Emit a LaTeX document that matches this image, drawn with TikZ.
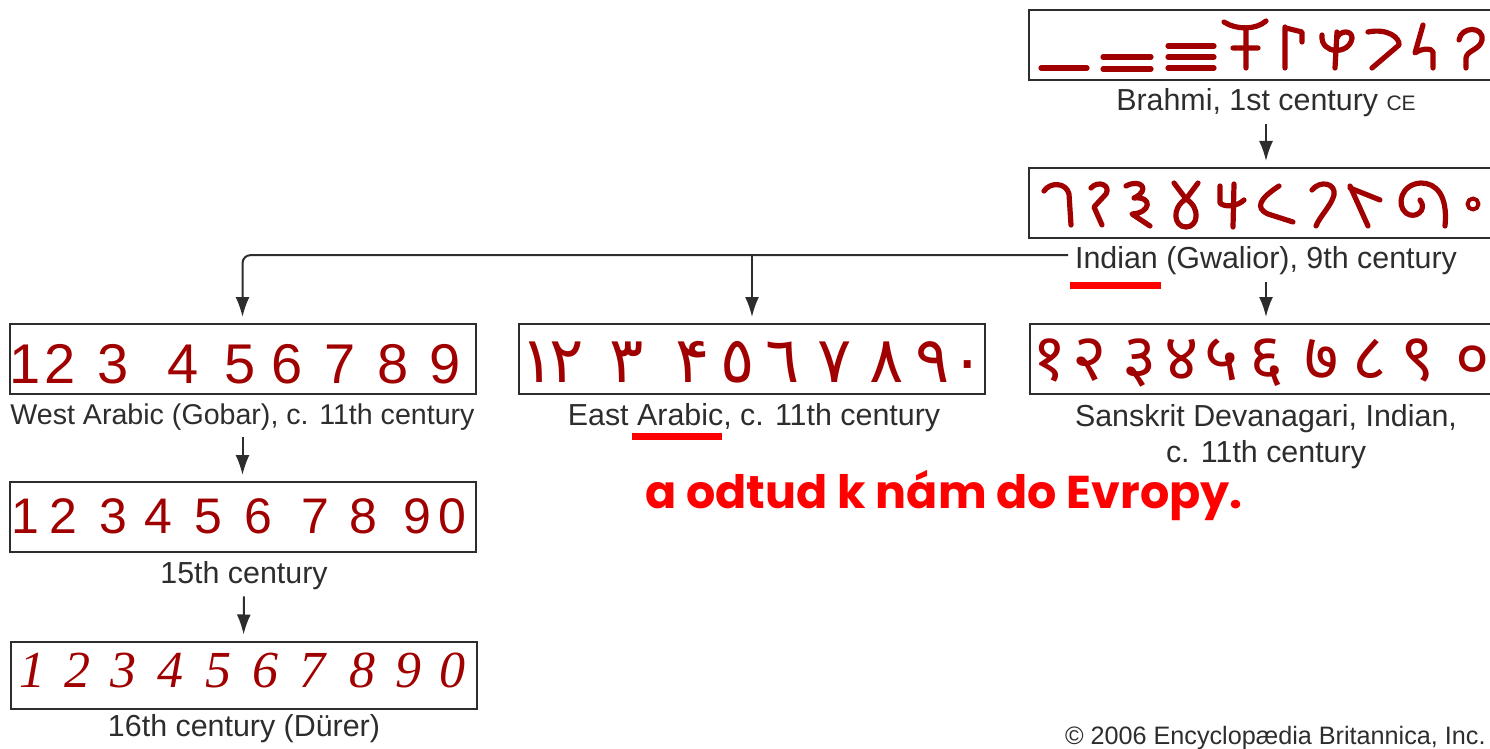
\documentclass[tikz,border=0pt]{standalone}
\usepackage{fontspec}
\usepackage{tikz}
\usetikzlibrary{arrows.meta,positioning}
\setmainfont{Liberation Sans}
\newfontfamily\devfont[Script=Devanagari]{Noto Sans}
\newfontfamily\arabicfont[Script=Arabic]{DejaVu Sans}
\newfontfamily\notefont{Poppins}
\newfontfamily\durerfont{Liberation Serif}
\definecolor{numred}{RGB}{160,0,0}
\definecolor{textgray}{RGB}{45,45,45}
\tikzset{
    numbox/.style={draw=textgray,line width=1pt,inner sep=0pt,minimum width=233pt,minimum height=35pt},
    caption/.style={anchor=base,text=textgray,font=\fontsize{15.2}{18}\selectfont,align=center},
    conn/.style={draw=textgray,line width=1pt,-{Latex[length=10pt,width=7pt]},shorten >=3pt},
    glyph/.style={draw=numred,line width=2.6pt,line cap=round,line join=round},
    numeral/.style={anchor=base,text=numred,inner sep=0pt}
}

\begin{document}
\begin{tikzpicture}[x=0.5pt,y=-0.5pt]
                \useasboundingbox (0,0) rectangle (1490,749);
                \node[numbox] (brbox) at (1262,45) {};
                \node[numbox] (gwbox) at (1262,203) {};
                \node[numbox] (wabox) at (242.5,359) {};
                \node[numbox] (eabox) at (752,359) {};
                \node[numbox] (devbox) at (1263,359) {};
                \node[numbox] (cxvbox) at (242.5,517) {};
                \node[numbox,minimum height=33.5pt] (cxvibox) at (243.5,675) {};

                \node[caption] (brcap) at (1266,111) {Brahmi, 1st century {\fontsize{10.5}{12}\selectfont CE}};
                \node[caption] (gwcap) at (1266,269) {Indian (Gwalior), 9th century};
                \node[caption,font=\fontsize{14.3}{18}\selectfont] (wacap) at (242.5,424) {West Arabic (Gobar), c. 11th century};
                \node[caption] (eacap) at (754,425) {East Arabic, c. 11th century};
                \node[caption] (devcap) at (1266,462) {Sanskrit Devanagari, Indian,\\c. 11th century};
                \node[caption] (cxvcap) at (244,583) {15th century};
                \node[caption] (cxvicap) at (244,736) {16th century (Dürer)};

                \draw[conn] (brcap.south) -- (brcap.south |- gwbox.north);
                \draw[conn] (gwcap.south) -- (gwcap.south |- devbox.north);
                \draw[conn,rounded corners=4pt] ([yshift=3pt]gwcap.west) -| (wabox.north);
                \draw[conn] ([yshift=3pt]gwcap.west -| eabox.north) -- (eabox.north);
                \draw[conn] (wacap.south) -- (cxvbox.north);
                \draw[conn] (cxvcap.south) -- (cxvibox.north);

                \draw[red,line width=3.5pt] (1070,285.5) -- (1161,285.5);
                \draw[red,line width=3.5pt] (632,436) -- (722,436);

                % Brahmi
                \draw[glyph] (1041,68) -- (1087,68);
                \draw[glyph] (1103,57) -- (1151,57) (1103,69) -- (1151,69);
                \draw[glyph] (1168,46) -- (1214,46) (1168,57) -- (1214,57) (1168,68) -- (1214,68);
                \draw[glyph] (1224,22) .. controls (1236,30) and (1256,30) .. (1266,21) (1246,28) -- (1246,68) (1233,48) -- (1258,48);
                \draw[glyph] (1285,27) -- (1285,68) (1286,28) -- (1302,32) -- (1302,42);
                \draw[glyph] (1337,32) -- (1335,68) (1322,35) .. controls (1320,55) and (1350,55) .. (1352,38) .. controls (1352,30) and (1340,30) .. (1337,38);
                \draw[glyph] (1368,32) .. controls (1388,28) and (1400,38) .. (1399,45) -- (1372,68);
                \draw[glyph] (1423,25) -- (1415,53) .. controls (1422,48) and (1432,48) .. (1433,52) -- (1433,68);
                \draw[glyph] (1459,40) .. controls (1461,26) and (1484,26) .. (1482,40) .. controls (1480,50) and (1467,50) .. (1466,58) -- (1466,68);

                % Gwalior
                \draw[glyph] (1044,191) .. controls (1050,182) and (1066,182) .. (1069,194) -- (1071,225);
                \draw[glyph] (1091,188) .. controls (1098,180) and (1111,185) .. (1106,194) -- (1094,207) -- (1102,225);
                \draw[glyph] (1126,186) .. controls (1141,178) and (1151,190) .. (1134,198) .. controls (1153,196) and (1151,213) .. (1132,214) -- (1150,226);
                \draw[glyph] (1174,183) -- (1186,199) .. controls (1171,208) and (1174,227) .. (1186,227) .. controls (1198,227) and (1201,208) .. (1186,199) -- (1198,183);
                \draw[glyph] (1220,186) -- (1220,203) .. controls (1225,208) and (1238,206) .. (1244,200) (1234,184) -- (1233,227);
                \draw[glyph] (1279,186) .. controls (1259,199) and (1255,208) .. (1268,214) -- (1293,222);
                \draw[glyph] (1312,190) .. controls (1320,180) and (1336,183) .. (1334,195) .. controls (1331,206) and (1320,216) .. (1316,226);
                \draw[glyph] (1350,188) -- (1380,200) (1350,186) -- (1368,226);
                \draw[glyph] (1445,226) .. controls (1448,195) and (1436,183) .. (1421,183) .. controls (1401,184) and (1396,205) .. (1406,213) .. controls (1415,220) and (1428,210) .. (1420,200);
                \draw[glyph,line width=2pt] (1473,204) circle (5.5);

                \foreach \d/\x [count=\i] in {1/25,2/60,3/113,4/183,5/240,6/287,7/340,8/393,9/445}
                    \node[numeral,font=\fontsize{28}{28}\selectfont] (wa\i) at (\x,383) {\d};
                \foreach \d/\x [count=\i] in {١/538,٢/567,٣/627,۴/693,٥/738,٦/783,٧/835,٨/887,٩/933,٠/968}
                    \node[numeral,font=\arabicfont\fontsize{32}{32}\selectfont] (ea\i) at (\x,382) {\d};
                \foreach \d/\x [count=\i] in {१/1050,२/1090,३/1140,४/1182,५/1222,६/1267,७/1322,८/1370,९/1418,०/1473}
                    \node[numeral,font=\devfont\fontsize{33}{33}\selectfont] (dev\i) at (\x,380) {\d};
                \foreach \d/\x [count=\i] in {1/25,2/63,3/113,4/158,5/208,6/258,7/315,8/363,9/417,0/452}
                    \node[numeral,font=\fontsize{25}{25}\selectfont] (cxv\i) at (\x,533) {\d};
                \foreach \d/\x [count=\i] in {1/32,2/77,3/123,4/170,5/218,6/265,7/312,8/362,9/408,0/452}
                    \node[numeral,font=\durerfont\itshape\fontsize{26}{26}\selectfont] (cxvi\i) at (\x,687) {\d};

                \node[anchor=base west,inner sep=0pt,text=red,font=\notefont\bfseries\fontsize{23}{27}\selectfont] (note) at (645,508) {a odtud k nám do Evropy.};
                \node[anchor=base east,inner sep=0pt,text=textgray,font=\fontsize{12.6}{15}\selectfont] (copyr) at (1486,744) {© 2006 Encyclopædia Britannica, Inc.};
\end{tikzpicture}
\end{document}
